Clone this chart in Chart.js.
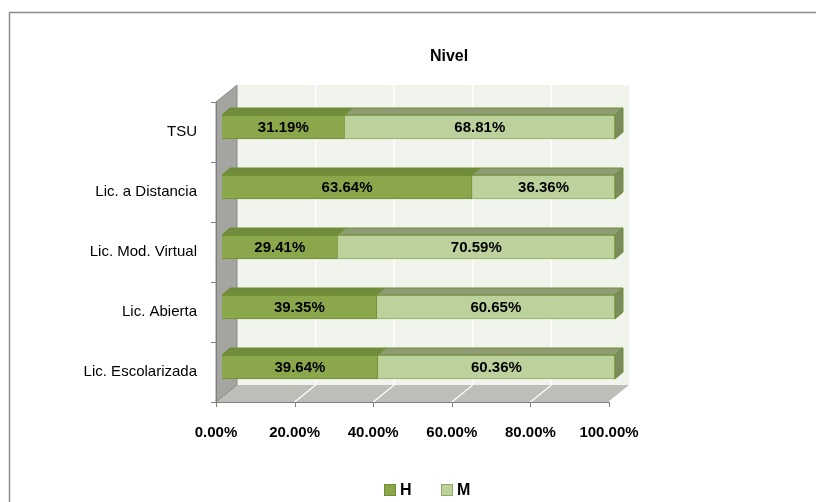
<!DOCTYPE html>
<html>
<head>
<meta charset="utf-8">
<script src="https://cdn.jsdelivr.net/npm/chart.js@4.4.0/dist/chart.umd.min.js"></script>
<style>
  html, body { margin: 0; padding: 0; background: #fff; }
  #wrap { width: 816px; height: 502px; }
</style>
</head>
<body>
<div id="wrap"><canvas id="nivelChart" width="816" height="502"></canvas></div>
<script>
// Data
const categories = ['TSU', 'Lic. a Distancia', 'Lic. Mod. Virtual', 'Lic. Abierta', 'Lic. Escolarizada'];
const seriesNames = ['H', 'M'];
const valuesH = [31.19, 63.64, 29.41, 39.35, 39.64];
const valuesM = [68.81, 36.36, 70.59, 60.65, 60.36];
const xTicks = [0, 20, 40, 60, 80, 100];

const FONT = "'Liberation Sans', Arial, sans-serif";
const frontColors = ['#8aa84b', '#bcd19b'];
const topColors = ['#6f8b3b', '#8e9b74'];
const edgeColors = ['#6f8f35', '#8fab5e'];
const sideColor = '#7a8b5c';

// geometry of the fake 3D box (front frame is offset from bar fronts)
const barDepth = { dx: 8, dy: -7 };
const frontOff = { dx: -6, dy: 5 };
const wallDepth = { dx: 21, dy: -17 };

const box3d = {
    id: 'box3d',
    beforeDatasetsDraw(chart) {
        const ctx = chart.ctx;
        const xs = chart.scales.x;
        const fl = xs.getPixelForValue(0) + frontOff.dx;
        const fr = xs.getPixelForValue(100) + frontOff.dx;
        const ft = chart.chartArea.top + frontOff.dy;
        const fb = chart.chartArea.bottom + frontOff.dy;
        const bl = fl + wallDepth.dx, br = fr + wallDepth.dx;
        const bt = ft + wallDepth.dy, bb = fb + wallDepth.dy;
        ctx.save();
        // outer frame
        ctx.strokeStyle = '#8c8c8c';
        ctx.lineWidth = 1.5;
        ctx.strokeRect(9.5, 12.5, 900, 600);
        // back wall
        ctx.fillStyle = '#f1f4ec';
        ctx.fillRect(bl, bt, br - bl, bb - bt);
        // back wall gridlines
        ctx.strokeStyle = '#ffffff';
        ctx.lineWidth = 1.5;
        xTicks.forEach(function(v) {
            if (v === 0) return;
            const x = xs.getPixelForValue(v) + frontOff.dx + wallDepth.dx;
            ctx.beginPath();
            ctx.moveTo(x, bt);
            ctx.lineTo(x, bb);
            ctx.stroke();
        });
        // floor
        ctx.fillStyle = '#bdbeb8';
        ctx.beginPath();
        ctx.moveTo(fl, fb);
        ctx.lineTo(bl, bb);
        ctx.lineTo(br, bb);
        ctx.lineTo(fr, fb);
        ctx.closePath();
        ctx.fill();
        ctx.strokeStyle = '#ffffff';
        ctx.lineWidth = 1.2;
        xTicks.forEach(function(v) {
            if (v === 0) return;
            const x = xs.getPixelForValue(v) + frontOff.dx;
            ctx.beginPath();
            ctx.moveTo(x, fb);
            ctx.lineTo(x + wallDepth.dx, bb);
            ctx.stroke();
        });
        // left side wall
        ctx.fillStyle = '#a4a5a0';
        ctx.beginPath();
        ctx.moveTo(fl, ft);
        ctx.lineTo(bl, bt);
        ctx.lineTo(bl, bb);
        ctx.lineTo(fl, fb);
        ctx.closePath();
        ctx.fill();
        ctx.strokeStyle = '#8a8b86';
        ctx.lineWidth = 1;
        ctx.stroke();
        // front axis lines and ticks
        ctx.strokeStyle = '#7f7f7f';
        ctx.lineWidth = 1;
        ctx.beginPath();
        ctx.moveTo(fl + 0.5, ft);
        ctx.lineTo(fl + 0.5, fb);
        ctx.moveTo(fl, fb + 0.5);
        ctx.lineTo(fr, fb + 0.5);
        xTicks.forEach(function(v) {
            const x = Math.round(xs.getPixelForValue(v) + frontOff.dx) + 0.5;
            ctx.moveTo(x, fb);
            ctx.lineTo(x, fb + 5);
        });
        const step = (fb - ft) / categories.length;
        for (let i = 0; i <= categories.length; i++) {
            const y = Math.round(ft + i * step) + 0.5;
            ctx.moveTo(fl - 5, y);
            ctx.lineTo(fl, y);
        }
        ctx.stroke();
        ctx.restore();
    },
    afterDatasetsDraw(chart) {
        const ctx = chart.ctx;
        const n = chart.data.datasets.length;
        ctx.save();
        chart.data.datasets.forEach(function(ds, di) {
            const meta = chart.getDatasetMeta(di);
            meta.data.forEach(function(bar, i) {
                const left = Math.min(bar.base, bar.x), right = Math.max(bar.base, bar.x);
                const top = bar.y - bar.height / 2, bottom = bar.y + bar.height / 2;
                // top face
                ctx.fillStyle = topColors[di];
                ctx.strokeStyle = edgeColors[0];
                ctx.lineWidth = 1;
                ctx.beginPath();
                ctx.moveTo(left, top);
                ctx.lineTo(left + barDepth.dx, top + barDepth.dy);
                ctx.lineTo(right + barDepth.dx, top + barDepth.dy);
                ctx.lineTo(right, top);
                ctx.closePath();
                ctx.fill();
                ctx.stroke();
                // side face on the last segment
                if (di === n - 1) {
                    ctx.fillStyle = sideColor;
                    ctx.beginPath();
                    ctx.moveTo(right, top);
                    ctx.lineTo(right + barDepth.dx, top + barDepth.dy);
                    ctx.lineTo(right + barDepth.dx, bottom + barDepth.dy);
                    ctx.lineTo(right, bottom);
                    ctx.closePath();
                    ctx.fill();
                    ctx.stroke();
                }
                // value label
                ctx.fillStyle = '#000';
                ctx.font = 'bold 15px ' + FONT;
                ctx.textAlign = 'center';
                ctx.textBaseline = 'middle';
                ctx.fillText(ds.data[i].toFixed(2) + '%', (left + right) / 2, bar.y + 1);
            });
        });
        ctx.restore();
    },
    afterDraw(chart) {
        const ctx = chart.ctx;
        ctx.save();
        // title
        ctx.fillStyle = '#000';
        ctx.font = 'bold 16px ' + FONT;
        ctx.textAlign = 'center';
        ctx.textBaseline = 'middle';
        ctx.fillText('Nivel', 449, 57);
        // legend
        const legendX = [384, 441];
        ctx.font = 'bold 16px ' + FONT;
        ctx.textAlign = 'left';
        seriesNames.forEach(function(name, i) {
            ctx.fillStyle = frontColors[i];
            ctx.fillRect(legendX[i], 484, 12, 12);
            ctx.strokeStyle = edgeColors[i];
            ctx.lineWidth = 1;
            ctx.strokeRect(legendX[i] + 0.5, 484.5, 11, 11);
            ctx.fillStyle = '#000';
            ctx.fillText(name, legendX[i] + 16, 491);
        });
        ctx.restore();
    }
};

const ctx = document.getElementById('nivelChart').getContext('2d');
new Chart(ctx, {
    type: 'bar',
    data: {
        labels: categories,
        datasets: [
            {
                label: seriesNames[0],
                data: valuesH,
                backgroundColor: frontColors[0],
                borderColor: edgeColors[0],
                borderWidth: 1,
                barThickness: 24
            },
            {
                label: seriesNames[1],
                data: valuesM,
                backgroundColor: frontColors[1],
                borderColor: edgeColors[1],
                borderWidth: 1,
                barThickness: 24
            }
        ]
    },
    options: {
        indexAxis: 'y',
        responsive: false,
        animation: false,
        layout: {
            padding: { top: 97, right: 201, bottom: 45, left: 0 }
        },
        scales: {
            x: {
                stacked: true,
                min: 0,
                max: 100,
                afterBuildTicks: function(scale) {
                    scale.ticks = xTicks.map(function(v) { return { value: v }; });
                },
                afterFit: function(scale) { scale.height = 60; },
                grid: { display: false, drawTicks: false },
                border: { display: false },
                ticks: {
                    padding: 27,
                    labelOffset: -6,
                    maxRotation: 0,
                    minRotation: 0,
                    autoSkip: false,
                    color: '#000',
                    font: { family: FONT, size: 15, weight: 'bold' },
                    callback: function(v) { return Number(v).toFixed(2) + '%'; }
                }
            },
            y: {
                stacked: true,
                afterFit: function(scale) { scale.width = 222; },
                grid: { display: false, drawTicks: false },
                border: { display: false },
                ticks: {
                    padding: 25,
                    labelOffset: 5,
                    color: '#000',
                    font: { family: FONT, size: 15 }
                }
            }
        },
        plugins: {
            legend: { display: false },
            title: { display: false },
            tooltip: { enabled: false }
        }
    },
    plugins: [box3d]
});
</script>
</body>
</html>
